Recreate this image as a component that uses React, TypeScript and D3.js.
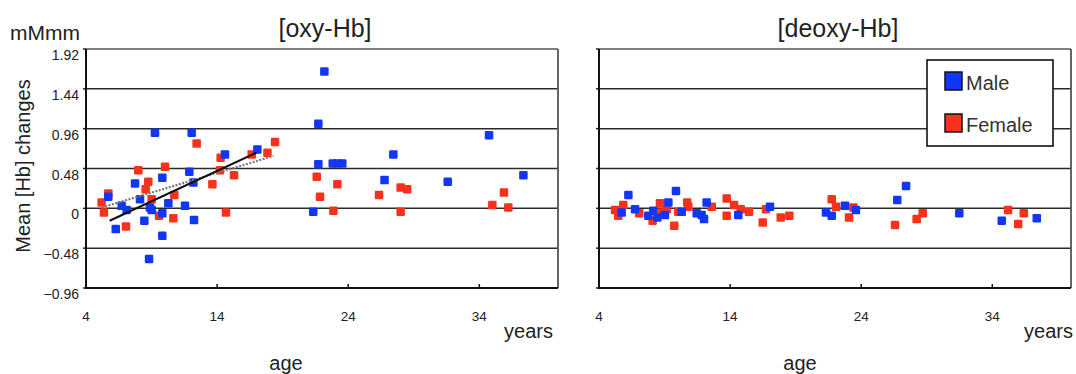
import { useEffect, useRef } from 'react'
import * as d3 from 'd3'

// axis ticks
const ageTicks = [4, 14, 24, 34]
const hbTicks = [-0.96, -0.48, 0, 0.48, 0.96, 1.44, 1.92]
const hbTickLabels = ['−0.96', '−0.48', '0', '0.48', '0.96', '1.44', '1.92']

// [oxy-Hb]
const oxyMaleAge = [9.26, 12.06, 14.6, 17.07, 5.7, 7.74, 9.82, 11.88, 12.19, 8.12, 6.72, 7.1, 8.88, 9.01, 10.28, 11.55, 9.82, 8.45, 12.24, 6.27, 9.82, 8.81,
  22.18, 21.72, 34.74, 27.44, 21.72, 22.82, 23.17, 23.55, 37.36, 26.77, 31.59, 21.33]
const oxyMaleVal = [0.91, 0.91, 0.65, 0.71, 0.14, 0.3, 0.37, 0.44, 0.31, 0.11, 0.03, -0.02, 0.01, -0.02, 0.06, 0.03, -0.06, -0.15, -0.14, -0.25, -0.33, -0.61,
  1.65, 1.02, 0.88, 0.65, 0.53, 0.54, 0.54, 0.54, 0.4, 0.34, 0.32, -0.04]
const oxyFemaleAge = [12.44, 18.42, 17.84, 16.64, 14.27, 7.99, 10.03, 14.22, 15.29, 13.64, 8.75, 8.55, 10.74, 9.01, 5.7, 5.19, 5.37, 9.57, 10.66, 14.68, 7.05,
  21.6, 23.17, 21.85, 22.87, 26.35, 28.0, 28.5, 28.0, 35.88, 34.99, 36.21]
const oxyFemaleVal = [0.78, 0.8, 0.67, 0.65, 0.61, 0.46, 0.5, 0.46, 0.4, 0.29, 0.32, 0.23, 0.16, 0.11, 0.18, 0.07, -0.05, -0.09, -0.12, -0.05, -0.22,
  0.38, 0.29, 0.14, -0.03, 0.16, 0.25, 0.23, -0.04, 0.19, 0.04, 0.01]
const oxyFitAge = [5.8, 17.0]
const oxyFitVal = [-0.15, 0.67]
const oxyTrendAge = [5.2, 18.3]
const oxyTrendVal = [0.01, 0.63]

// [deoxy-Hb]
const deoxyMaleAge = [6.24, 9.87, 5.73, 6.75, 7.76, 8.14, 8.45, 9.03, 9.29, 10.31, 11.45, 11.83, 12.01, 12.21, 14.62, 17.04, 21.31,
  21.75, 22.76, 23.6, 26.75, 27.42, 31.48, 34.72, 37.39]
const deoxyMaleVal = [0.16, 0.21, -0.05, -0.01, -0.09, -0.03, -0.11, -0.08, 0.07, -0.04, -0.06, -0.08, -0.13, 0.07, -0.08, 0.02, -0.05,
  -0.09, 0.03, -0.02, 0.1, 0.27, -0.06, -0.15, -0.12]
const deoxyFemaleAge = [5.22, 5.47, 5.85, 7.07, 8.09, 8.65, 8.78, 9.16, 9.74, 10.05, 10.73, 10.81, 12.6, 13.74, 13.74, 14.3, 14.81, 15.44, 16.49, 16.74, 17.86, 18.52,
  21.75, 22.08, 23.07, 23.4, 26.58, 28.23, 28.69, 35.2, 36.4, 35.97]
const deoxyFemaleVal = [-0.02, -0.09, 0.04, -0.06, -0.15, 0.06, -0.05, -0.01, -0.21, -0.04, 0.07, 0.02, 0.02, 0.12, -0.09, 0.04, -0.01, -0.04, -0.17, -0.01, -0.11, -0.09,
  0.11, 0.02, -0.11, 0.01, -0.2, -0.13, -0.06, -0.02, -0.06, -0.19]

const legendLabels = ['Male', 'Female']
const MALE = '#1236f5'
const FEMALE = '#f7321c'
const FONT = '"Liberation Sans", Arial, sans-serif'

const zip = (a: number[], b: number[]) => a.map((v, i) => [v, b[i]] as [number, number])

export default function App() {
  const svgRef = useRef<SVGSVGElement>(null)

  useEffect(() => {
    if (!svgRef.current) return
    const svg = d3.select(svgRef.current)
    svg.selectAll('*').remove()

    const top = 49
    const bottom = 288
    const y = d3.scaleLinear().domain([-0.96, 1.92]).range([bottom, top])

    const panels = [
      {
        title: '[oxy-Hb]', left: 86, right: 558, yearsX: 553, ageX: 286,
        male: zip(oxyMaleAge, oxyMaleVal), female: zip(oxyFemaleAge, oxyFemaleVal), fits: true, legend: false, yLabels: true,
      },
      {
        title: '[deoxy-Hb]', left: 599, right: 1071, yearsX: 1073, ageX: 800,
        male: zip(deoxyMaleAge, deoxyMaleVal), female: zip(deoxyFemaleAge, deoxyFemaleVal), fits: false, legend: true, yLabels: false,
      },
    ]

    panels.forEach(p => {
      const x = d3.scaleLinear().domain([4, 40]).range([p.left, p.right])
      const g = svg.append('g')

      // gridlines
      g.selectAll('line.grid')
        .data(hbTicks.slice(1, -1))
        .join('line')
        .attr('x1', p.left).attr('x2', p.right)
        .attr('y1', d => y(d)).attr('y2', d => y(d))
        .attr('stroke', '#2a2a2a').attr('stroke-width', 1.5)

      // left tick marks
      g.selectAll('line.ytick')
        .data(hbTicks)
        .join('line')
        .attr('x1', p.left - 3).attr('x2', p.left)
        .attr('y1', d => y(d)).attr('y2', d => y(d))
        .attr('stroke', '#222').attr('stroke-width', 1.5)

      // points
      const sq = 8.5
      ;[{ pts: p.female, c: FEMALE }, { pts: p.male, c: MALE }].forEach(s => {
        g.append('g').selectAll('rect')
          .data(s.pts)
          .join('rect')
          .attr('x', d => x(d[0]) - sq / 2)
          .attr('y', d => y(d[1]) - sq / 2)
          .attr('width', sq).attr('height', sq)
          .attr('rx', 1.2)
          .attr('fill', s.c)
      })

      // frame
      g.append('line').attr('x1', p.left).attr('x2', p.right).attr('y1', top).attr('y2', top)
        .attr('stroke', '#555').attr('stroke-width', 1.5)
      g.append('line').attr('x1', p.right).attr('x2', p.right).attr('y1', top).attr('y2', bottom)
        .attr('stroke', '#555').attr('stroke-width', 1.8)
      g.append('line').attr('x1', p.left).attr('x2', p.left).attr('y1', top).attr('y2', bottom + 1)
        .attr('stroke', '#111').attr('stroke-width', 2)
      g.append('line').attr('x1', p.left).attr('x2', p.right).attr('y1', bottom).attr('y2', bottom)
        .attr('stroke', '#111').attr('stroke-width', 2)

      // bottom ticks (inside)
      g.selectAll('line.xtick')
        .data(ageTicks.slice(1))
        .join('line')
        .attr('x1', d => x(d)).attr('x2', d => x(d))
        .attr('y1', bottom).attr('y2', bottom - 4)
        .attr('stroke', '#111').attr('stroke-width', 1.5)

      g.selectAll('text.xtick')
        .data(ageTicks)
        .join('text')
        .attr('x', d => x(d)).attr('y', 321)
        .attr('text-anchor', 'middle')
        .attr('font-family', FONT).attr('font-size', 13.5).attr('fill', '#222')
        .text(d => String(d))

      if (p.yLabels) {
        g.selectAll('text.ytick')
          .data(hbTicks)
          .join('text')
          .attr('x', 79).attr('y', d => y(d) + 11)
          .attr('text-anchor', 'end')
          .attr('font-family', FONT).attr('font-size', 14).attr('fill', '#222')
          .text((_, i) => hbTickLabels[i])
      }

      if (p.fits) {
        const line = d3.line<[number, number]>().x(d => x(d[0])).y(d => y(d[1]))
        g.append('path').datum(zip(oxyTrendAge, oxyTrendVal))
          .attr('d', line).attr('fill', 'none')
          .attr('stroke', '#777').attr('stroke-width', 2.2).attr('stroke-dasharray', '2,1.5')
        g.append('path').datum(zip(oxyFitAge, oxyFitVal))
          .attr('d', line).attr('fill', 'none')
          .attr('stroke', '#111').attr('stroke-width', 2)
      }

      // titles
      g.append('text').attr('x', (p.left + p.right) / 2 + 3).attr('y', 37)
        .attr('text-anchor', 'middle').attr('font-family', FONT).attr('font-size', 25).attr('fill', '#222')
        .text(p.title)
      g.append('text').attr('x', p.yearsX).attr('y', 338)
        .attr('text-anchor', 'end').attr('font-family', FONT).attr('font-size', 20).attr('fill', '#222')
        .text('years')
      g.append('text').attr('x', p.ageX).attr('y', 370)
        .attr('text-anchor', 'middle').attr('font-family', FONT).attr('font-size', 20).attr('fill', '#222')
        .text('age')

      if (p.legend) {
        const lg = g.append('g')
        lg.append('rect').attr('x', 927).attr('y', 60).attr('width', 126).attr('height', 86)
          .attr('fill', '#fff').attr('stroke', '#111').attr('stroke-width', 1.6)
        legendLabels.forEach((lab, i) => {
          lg.append('rect').attr('x', 945).attr('y', 72 + i * 42).attr('width', 17).attr('height', 18)
            .attr('fill', i === 0 ? MALE : FEMALE).attr('stroke', '#111').attr('stroke-width', 1.5)
          lg.append('text').attr('x', 966).attr('y', 90 + i * 42)
            .attr('font-family', FONT).attr('font-size', 20).attr('fill', '#333')
            .text(lab)
        })
      }
    })

    svg.append('text').attr('x', 10).attr('y', 40)
      .attr('font-family', FONT).attr('font-size', 21).attr('fill', '#222')
      .text('mMmm')
    svg.append('text').attr('transform', 'translate(30,166) rotate(-90)')
      .attr('text-anchor', 'middle').attr('font-family', FONT).attr('font-size', 20).attr('fill', '#222')
      .text('Mean [Hb] changes')
  }, [])

  return (
    <div style={{ position: 'absolute', left: 0, top: 0 }}>
      <svg ref={svgRef} width={1076} height={374} style={{ display: 'block', background: '#fff' }} />
    </div>
  )
}
